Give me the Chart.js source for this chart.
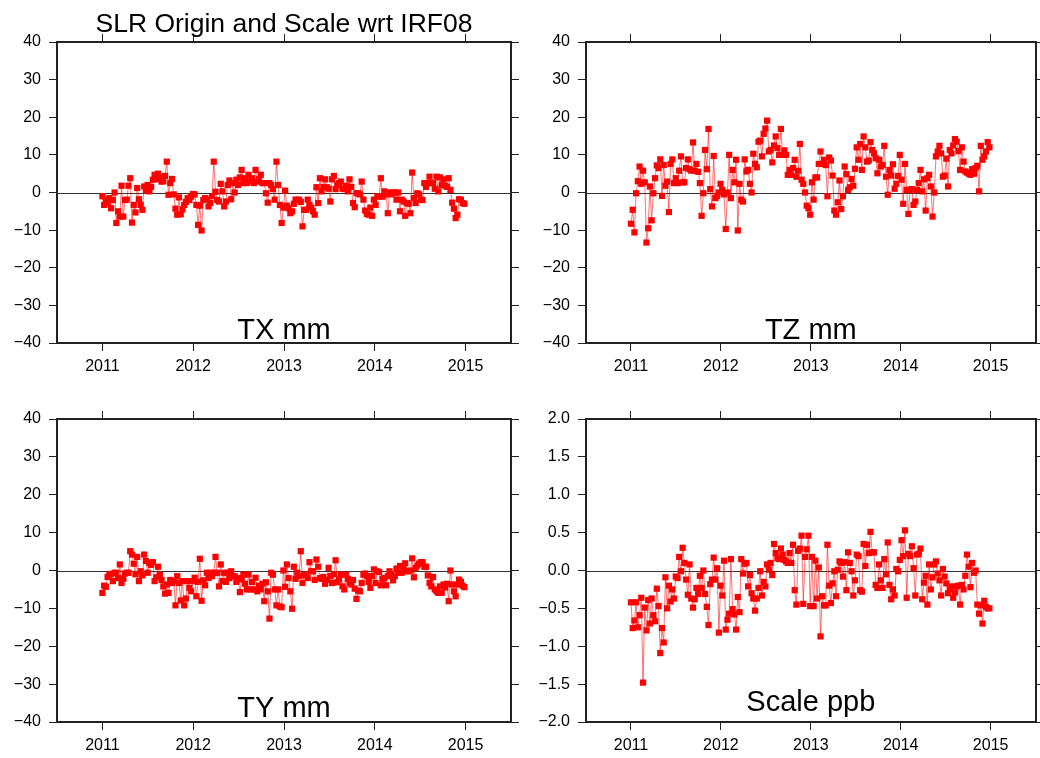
<!DOCTYPE html>
<html><head><meta charset="utf-8">
<script src="https://cdn.jsdelivr.net/npm/chart.js@4/dist/chart.umd.min.js"></script>
<style>
html,body{margin:0;padding:0;background:#fff;width:1040px;height:758px;overflow:hidden}
canvas{position:absolute;display:block}
</style></head><body>
<canvas id="c1" width="520" height="380" style="left:0;top:0"></canvas>
<canvas id="c2" width="520" height="380" style="left:520px;top:0"></canvas>
<canvas id="c3" width="520" height="378" style="left:0;top:380px"></canvas>
<canvas id="c4" width="520" height="378" style="left:520px;top:380px"></canvas>
<script>
const TITLE = 'SLR Origin and Scale wrt IRF08';
const START_YEAR = 2011.0;
const STEP_YEARS = 7 / 365.25;
const YEAR_TICKS = [2011, 2012, 2013, 2014, 2015];

const tx = [-1,-3.3,-2,-2.8,-1.5,-4.2,-2,0,-8.1,-5,
-6.4,1.8,-6.4,-2,-1.9,1.8,3.8,-8,-3.3,-5.3,
1.2,-1.8,-3.3,-4.6,1.6,0.5,2,0.3,1.5,3.4,
4.7,3.5,5,4,2.9,3,4.4,8.2,-0.6,2.5,
3.6,-0.5,-4.3,-5.9,-1.3,-5.8,-4.5,-3.3,-2.5,-1.5,
-2,-1.1,-0.4,-0.5,-3.3,-8.6,-3.5,-10.1,-2,-1.5,
-1.8,-3.7,-2.8,-1,8.2,0.2,-2,-2.4,2.3,0.3,
-3.7,-2.4,2,3.2,-1.8,2.5,0,3.4,2,4,
6,2.5,3.8,2.5,4.7,2.9,3.8,2.5,6,2.9,
3.5,4.7,2.5,2.5,-0.2,-2.7,2.5,2,0.9,-1.9,
8.2,2,-3.3,-8.1,-4,0.5,-3.5,-4.2,-5.5,-5,
-3,-1.9,-2,-1.9,-2.5,-9,-4.6,-4.6,-1.9,-3.3,
-4,-5,-5.9,1.4,-2.8,3.8,0.3,1.5,3.5,1.4,
1,-2.4,3.5,4.4,0.9,2,2.5,2.9,1,0.9,
1.8,0.3,3.5,1.5,-2.8,-3.9,-0.2,-0.2,-0.5,2.9,
-1.9,-4.8,-5.7,-5.9,-4,-6.2,-1.9,-3.3,-1,-1.1,
3.8,-1.1,0.3,-0.5,-5.5,0,-0.5,0,0,-1.9,
0,-5,-1.9,-2.4,-6.2,-2.8,-3,-5.5,5.3,-1.5,
-2.8,-0.2,-0.5,-1.9,-2,2.5,1.5,2.5,4.2,2.5,
2.5,1,4.2,0.3,4,2,3.5,1.8,1.5,3.8,
0.7,-2.7,-4.3,-6.8,-5.9,-1.8,-1.9,-2.8,-3];

const tz = [-8.3,-4.6,-10.6,-0.2,3,6.9,2.3,5.8,2.7,-13.3,
-9.5,1.6,-7.4,-0.2,3.8,7.2,6.5,8.8,-0.9,7.3,
1.8,2.9,-5.2,7.6,8.8,2.5,3.8,2.5,5.8,9.6,
2.7,2.7,6.5,8.8,6.2,5.8,13.3,5.8,7.6,5.5,
2.5,-6.2,-0.2,11.3,6.2,16.9,0.9,-3.7,9.7,-1.5,
-0.9,0,2.3,0.7,-0.5,-9.7,0,10,-1.5,6,
2.7,8.7,-10.1,2.3,-1.9,-2.4,8.8,5.6,6,2.3,
0,10.3,7.6,6.7,13.5,13.8,9.6,15.6,17,19.1,
10.9,11.3,8,12.5,14.9,11.8,10,16.9,10,11.2,
10,4.7,6,4.7,6.5,8.7,4.2,5.8,12.9,3.4,
2.3,0,-3.5,-4.2,-5.9,2.7,-1.9,4,4,7.6,
10.9,7.6,8.7,7.3,-1,9.3,8.5,4.5,-4.8,-5.9,
-2.6,3.2,-4.4,-1,6.9,4.9,0.7,1.4,3.6,1.8,
6.3,12,8.7,12.9,6,14.9,12,8.2,8.5,13.4,
11.3,10.4,9.1,5.1,8.7,6.9,7.3,12.4,4.2,-0.6,
6,4.5,7.5,1,2.3,4.4,10,3.4,-3,7.6,
0.7,-5.7,0.7,0.9,-3.3,-2.4,0.7,2.5,6,0.3,
3.5,-4.8,3.8,4.7,1.6,-6.4,0,9.6,10.9,12.4,
10.4,4.2,4.5,9,1.6,11.3,10.4,12.5,14.2,13.5,
11,6,12,8.2,5.6,5.3,5,4.7,6.2,5,
6.5,7.1,0.3,12.4,8.7,9.6,10.9,13.4,12];

const ty = [-5.9,-4,-4.3,-1.7,-1.1,-0.9,-2.8,-0.6,-0.6,-2,
1.6,-3.3,-2.2,-0.8,-0.6,-0.6,5.1,4.2,1.8,-1,
3.6,-2.8,-0.2,-1.3,4.2,2.5,-0.6,2,1.5,2.2,
-2.8,-1.8,1,-1.1,-2.5,-4.2,-6.1,-3.7,-5.9,-2.5,
-3.3,-2.8,-9.2,-1.5,-3.3,-7.9,-2.8,-9.2,-7.4,-2.8,
-4.6,-5.5,-2.8,-1.9,-6.8,-3,3.1,-8,-2.6,-3.9,
-0.6,-2,-0.6,-1.5,-0.6,3.6,-0.6,-4.2,1.6,-2.8,
-0.6,-3,-0.6,-2,-0.2,-1.5,-1.5,-3,-2,-5.7,
-2.4,-1.1,-3.5,-5,-1.1,-5,-3,-5,-1.9,-5.5,
-4,-5,-3.5,-8.1,-3.1,-5.5,-12.7,-0.6,-1.1,-5,
-9.2,-5,-9.5,-9.7,0,-4.3,1.6,-2,-5.5,-10.1,
1,-2.2,-0.6,-1.5,5.1,-3.3,-1.1,-1.3,-2,2.2,
-0.2,-0.2,-2.5,2.9,1,-2,-2.2,-1.7,-3.5,-2.5,
0.7,-1.5,-3.3,-1,2.7,-3.1,-2.4,-1.1,-4.2,-5,
-1.1,-2.2,-3.3,-3.7,-2.5,-4.8,-7.5,-5.3,-5.5,-3.3,
-1.1,-0.8,-1.5,-3,-4.6,-1.5,0.3,-3.3,-0.2,-0.4,
-3.9,-2.2,-2,-3.9,-1.5,-0.2,-1,-2.6,-1.5,0.5,
-0.6,1.2,-0.6,0.5,1.9,-0.2,-0.2,0,3.2,-1.8,
0.7,1.3,1.8,2.2,2.2,1,1,-1.3,-3.3,-4.2,
-1.7,-5,-5.5,-5.9,-4.2,-5.9,-3.7,-4.5,-3.5,-8.1,
0,-3.7,-5.5,-6.8,-3.7,-2.4,-3,-4,-4.4];

const scalePpb = [-0.42,-0.76,-0.66,-0.42,-0.75,-0.59,-0.36,-1.48,-0.49,-0.79,
-0.39,-0.7,-0.37,-0.59,-0.67,-0.24,-0.47,-1.09,-0.76,-0.95,
-0.09,-0.5,-0.2,-0.41,-0.25,-0.37,-0.08,-0.1,0.18,-0.01,
0.3,0.1,-0.12,-0.32,0.08,-0.37,-0.49,-0.38,-0.23,-0.31,
-0.07,-0.23,0,-0.31,-0.48,-0.72,-0.18,-0.12,0.17,-0.12,
0.03,-0.82,-0.2,-0.33,0.13,-0.78,-0.65,-0.57,0.15,-0.51,
-0.58,-0.78,-0.35,-0.55,0.15,-0.04,0.09,0.1,-0.21,-0.06,
-0.3,-0.37,-0.53,-0.37,-0.23,-0.01,-0.33,-0.15,-0.21,0.08,
0.01,0.1,-0.06,0.35,0.23,0.16,0.15,0.29,0.21,0.14,
0.12,0.1,0.23,0.1,0.34,-0.26,-0.45,0.26,0.29,0.46,
-0.44,0.18,0.28,0.46,-0.47,0.18,-0.47,0.13,-0.37,0.04,
-0.87,-0.34,-0.46,-0.46,0.34,-0.2,-0.43,-0.17,-0.01,-0.34,
0.01,0.12,0.1,-0.08,0.11,-0.26,0.24,0.1,-0.01,-0.33,
-0.13,0.21,0.19,-0.26,-0.28,0.35,0.06,0.34,0.23,0.51,
0.24,0.24,-0.19,-0.23,0.08,-0.13,-0.23,0.15,-0.05,0.37,
-0.19,-0.38,-0.25,-0.33,0.02,-0.01,0.14,0.4,0.19,0.53,
-0.36,0.22,0.19,0.32,0.03,-0.33,0.21,0.22,0.29,-0.38,
-0.16,-0.07,-0.45,0.08,-0.25,-0.09,0.08,0.12,-0.04,-0.13,
-0.33,0.02,-0.08,-0.17,-0.3,-0.25,-0.21,-0.36,-0.29,-0.21,
-0.2,-0.45,-0.19,-0.25,-0.07,0.21,0.05,-0.22,0.1,-0.03,
0,-0.45,-0.57,-0.46,-0.7,-0.4,-0.48,-0.5,-0.5];

const FONT = "'Liberation Sans', Arial, Helvetica, sans-serif";
const INK = '#222';

function toPoints(vals){
  return vals.map((v,i)=>({x: START_YEAR + i*STEP_YEARS, y: v}));
}
function minusFmt(dec){
  return function(v){
    const s = Math.abs(v).toFixed(dec);
    return (v < 0 ? '\u2212' : '') + s;
  };
}
const setYearTicks = s => { s.ticks = YEAR_TICKS.map(v=>({value:v})); };

const deco = {
  id:'deco',
  beforeDatasetsDraw(chart, args, o){
    const {ctx, chartArea:a} = chart;
    const y = chart.scales.y;
    const yy = Math.round(y.getPixelForValue(0)) + 0.5;
    ctx.save();
    ctx.strokeStyle = '#333'; ctx.lineWidth = 1;
    ctx.beginPath(); ctx.moveTo(a.left, yy); ctx.lineTo(a.right, yy); ctx.stroke();
    ctx.restore();
  },
  afterDraw(chart, args, o){
    const {ctx, chartArea:a} = chart;
    ctx.save();
    ctx.fillStyle = '#000';
    ctx.textAlign = 'center';
    ctx.textBaseline = 'alphabetic';
    ctx.font = '29px ' + FONT;
    ctx.fillText(o.label, (a.left + a.right)/2, a.bottom - o.labelOffset);
    if (o.title){
      ctx.font = '26.5px ' + FONT;
      ctx.fillText(o.title, (a.left + a.right)/2, o.titleY);
    }
    ctx.restore();
  }
};

function makeChart(id, vals, cfg){
  const grid = {drawOnChartArea:false, drawTicks:true, tickLength:8, color:INK, lineWidth:1};
  const border = {display:true, color:INK, width:2};
  const yTicks = {stepSize: cfg.step, color:'#000', font:{family:FONT, size:16}, padding:8, callback: minusFmt(cfg.dec)};
  new Chart(document.getElementById(id), {
    type:'line',
    data:{datasets:[{
      data: toPoints(vals),
      borderColor:'rgba(255,0,0,0.55)',
      borderWidth:1,
      backgroundColor:'#ff0000',
      pointBackgroundColor:'#ff0000',
      pointBorderColor:'#ff0000',
      pointBorderWidth:0,
      pointStyle:'rect',
      pointRadius:4.4,
      tension:0,
      clip:false
    }]},
    options:{
      responsive:false, animation:false, devicePixelRatio:1,
      layout:{padding:0},
      plugins:{legend:{display:false}, tooltip:{enabled:false},
        deco:{label:cfg.label, labelOffset:cfg.labelOffset, title:cfg.title, titleY:32}},
      scales:{
        x:{type:'linear', position:'bottom', min:2010.5, max:2015.5,
           afterBuildTicks:setYearTicks, afterFit:s=>{s.height=cfg.bottom;},
           grid, border,
           ticks:{color:'#000', font:{family:FONT, size:16}, padding:6, maxRotation:0, callback:v=>String(v)}},
        x2:{type:'linear', position:'top', min:2010.5, max:2015.5,
           afterBuildTicks:setYearTicks, afterFit:s=>{s.height=cfg.top;},
           grid, border, ticks:{display:false}},
        y:{type:'linear', position:'left', min:cfg.min, max:cfg.max,
           afterFit:s=>{s.width=cfg.left;}, grid, border, ticks:yTicks},
        y2:{type:'linear', position:'right', min:cfg.min, max:cfg.max,
           afterFit:s=>{s.width=cfg.right;}, grid, border,
           ticks:{stepSize:cfg.step, display:false}}
      }
    },
    plugins:[deco]
  });
}

makeChart('c1', tx, {label:'TX mm', labelOffset:4, title:TITLE, min:-40, max:40, step:10, dec:0, left:57, right:9, top:42, bottom:37});
makeChart('c2', tz, {label:'TZ mm', labelOffset:4, min:-40, max:40, step:10, dec:0, left:66, right:1, top:42, bottom:37});
makeChart('c3', ty, {label:'TY mm', labelOffset:5, min:-40, max:40, step:10, dec:0, left:57, right:9, top:39, bottom:36});
makeChart('c4', scalePpb, {label:'Scale ppb', labelOffset:11, min:-2, max:2, step:0.5, dec:1, left:66, right:1, top:39, bottom:36});
</script>
</body></html>
